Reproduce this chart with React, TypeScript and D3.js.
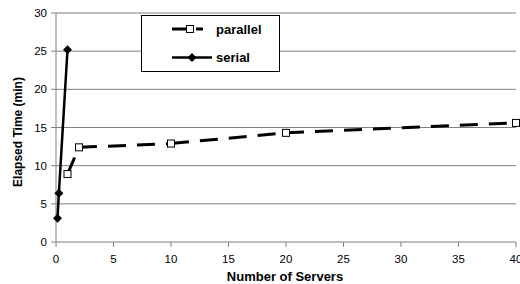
import React from "react";
import * as d3 from "d3";

const parallelX = [1, 2, 10, 20, 40];
const parallelY = [8.9, 12.4, 12.9, 14.3, 15.6];
const serialX = [0.13, 0.25, 1];
const serialY = [3.1, 6.4, 25.2];
const xTicks = [0, 5, 10, 15, 20, 25, 30, 35, 40];
const yTicks = [0, 5, 10, 15, 20, 25, 30];
const seriesNames = ["parallel", "serial"];

const W = 520, H = 284;
const FONT = "'Liberation Sans', Arial, sans-serif";

export default function App() {
  const x = d3.scaleLinear().domain([0, 40]).range([56, 516]);
  const y = d3.scaleLinear().domain([0, 30]).range([242, 13]);
  const par = parallelX.map((v, i) => [x(v), y(parallelY[i])] as [number, number]);
  const ser = serialX.map((v, i) => [x(v), y(serialY[i])] as [number, number]);
  const line = d3.line();
  const diamond = (cx: number, cy: number, r = 4.5) =>
    `M${cx},${cy - r}L${cx + r},${cy}L${cx},${cy + r}L${cx - r},${cy}Z`;

  return (
    <svg width={W} height={H} style={{ position: "absolute", left: 0, top: 0, background: "#fff" }}
      fontFamily={FONT}>
      <rect width={W} height={H} fill="#fff" />
      {yTicks.map((t) => (
        <g key={t}>
          {t > 0 && <line x1={56} x2={516} y1={y(t)} y2={y(t)} stroke="#808080" strokeWidth={1} />}
          <line x1={51} x2={56} y1={y(t)} y2={y(t)} stroke="#808080" strokeWidth={1} />
          <text x={47} y={y(t)} dy="0.36em" textAnchor="end" fontSize={11.5} fill="#000">{t}</text>
        </g>
      ))}
      <line x1={56} x2={56} y1={y(30)} y2={y(0)} stroke="#808080" strokeWidth={1} />
      <line x1={56} x2={516} y1={y(0)} y2={y(0)} stroke="#808080" strokeWidth={1} />
      {xTicks.map((t) => (
        <g key={t}>
          <line x1={x(t)} x2={x(t)} y1={242} y2={247} stroke="#808080" strokeWidth={1} />
          <text x={x(t)} y={263} textAnchor="middle" fontSize={11.5} fill="#000">{t}</text>
        </g>
      ))}
      <text x={285} y={280.5} textAnchor="middle" fontSize={13} fontWeight="bold">Number of Servers</text>
      <text transform="translate(21.5,132) rotate(-90)" textAnchor="middle" fontSize={12} fontWeight="bold">Elapsed Time (min)</text>

      {/* parallel: dashed segments, pattern restarting at each point */}
      {par.slice(1).map((p, i) => (
        <path key={i} d={line([par[i], p]) || ""} fill="none" stroke="#000" strokeWidth={3}
          strokeDasharray="18,11" />
      ))}
      {par.map((p, i) => (
        <rect key={i} x={p[0] - 3.5} y={p[1] - 3.5} width={7} height={7} fill="#fff" stroke="#000" strokeWidth={1} />
      ))}

      <path d={line(ser) || ""} fill="none" stroke="#000" strokeWidth={2.5} />
      {ser.map((p, i) => (
        <path key={i} d={diamond(p[0], p[1])} fill="#000" />
      ))}

      {/* legend */}
      <rect x={141.5} y={15.5} width={138} height={56} fill="#fff" stroke="#000" strokeWidth={1} />
      <line x1={172} x2={203} y1={29} y2={29} stroke="#000" strokeWidth={3} strokeDasharray="15,9" />
      <rect x={186.5} y={25.5} width={7} height={7} fill="#fff" stroke="#000" strokeWidth={1} />
      <text x={216} y={29} dy="0.36em" fontSize={13} fontWeight="bold">{seriesNames[0]}</text>
      <line x1={172} x2={212} y1={57.5} y2={57.5} stroke="#000" strokeWidth={2.5} />
      <path d={diamond(192, 57.5)} fill="#000" />
      <text x={216} y={57.5} dy="0.36em" fontSize={13} fontWeight="bold">{seriesNames[1]}</text>
    </svg>
  );
}
